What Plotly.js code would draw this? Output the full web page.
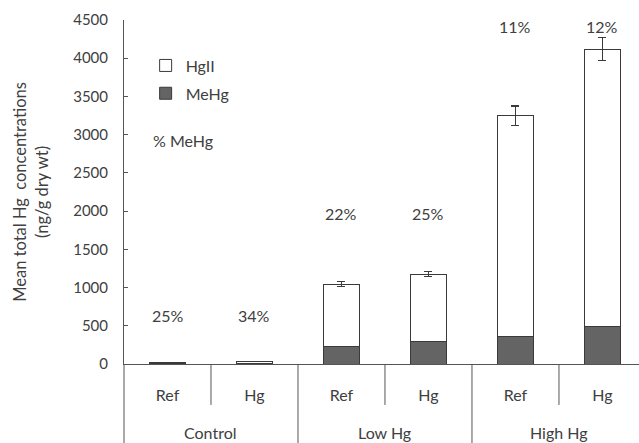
<!DOCTYPE html>
<html>
<head>
<meta charset="utf-8">
<script src="https://cdn.plot.ly/plotly-3.0.1.min.js"></script>
<style>html,body{margin:0;padding:0;overflow:hidden;background:#fff}</style>
</head>
<body>
<div id="chart" style="width:639px;height:443px"></div>
<script>
// ---- data ----
var subLabels = ["Ref", "Hg", "Ref", "Hg", "Ref", "Hg"];
var groupLabels = ["Control", "Low Hg", "High Hg"];
var meHg = [5, 10, 228, 290, 355, 490];
var hgII = [13, 20, 817, 887, 2890, 3630];
var totalErr = [0, 0, 30, 30, 130, 150];
var pctLabels = ["25%", "34%", "22%", "25%", "11%", "12%"];
var pctLabelY = [640, 640, 1975, 1975, 4410, 4410];

var xs = subLabels.map(function (_, i) { return i; });
var txt = '#404040';
var fontFam = 'Lato, "Open Sans", sans-serif';

var traces = [
  {
    type: 'bar', name: 'MeHg', x: xs, y: meHg, width: 0.41, legendgroup: 'b', legendrank: 2,
    marker: {color: '#646464', line: {color: '#3a3a3a', width: 1}}
  },
  {
    type: 'bar', name: 'HgII', x: xs, y: hgII, width: 0.41, legendgroup: 'a', legendrank: 1,
    marker: {color: '#ffffff', line: {color: '#3a3a3a', width: 1}},
    error_y: {type: 'data', array: totalErr, visible: true, color: '#3a3a3a', thickness: 1.2, width: 4}
  }
];

var annotations = [];
pctLabels.forEach(function (t, i) {
  annotations.push({x: xs[i], y: pctLabelY[i], xref: 'x', yref: 'y', text: t, showarrow: false,
    font: {size: 16, color: txt, family: fontFam}});
});
groupLabels.forEach(function (g, j) {
  annotations.push({x: 2 * j + 0.5, y: -0.2, xref: 'x', yref: 'paper', text: g, showarrow: false,
    yanchor: 'middle', font: {size: 16, color: txt, family: fontFam}});
});
annotations.push({x: 0.18, y: 2930, xref: 'x', yref: 'y', text: '% MeHg', showarrow: false,
  font: {size: 16, color: txt, family: fontFam}});

var shapes = [];
// dividers below axis
for (var k = 0; k < xs.length; k++) {
  var isGroup = (k % 2 === 1);
  shapes.push({type: 'line', xref: 'x', yref: 'paper', x0: xs[k] + 0.5, x1: xs[k] + 0.5,
    y0: 0, y1: isGroup ? -0.24 : -0.119, line: {color: '#555', width: 1}});
}
shapes.push({type: 'line', xref: 'paper', yref: 'paper', x0: 0, x1: 0, y0: 0, y1: -0.24,
  line: {color: '#555', width: 1}});

var layout = {
  width: 639, height: 443,
  margin: {l: 124, r: 0, t: 20, b: 79},
  paper_bgcolor: '#fff', plot_bgcolor: '#fff',
  barmode: 'stack',
  font: {family: fontFam, size: 16, color: txt},
  xaxis: {
    range: [-0.5, 5.42], tickvals: xs, ticktext: subLabels,
    showgrid: false, zeroline: false, showline: true, linecolor: '#555', linewidth: 1,
    ticks: '', ticklabelstandoff: 17, tickfont: {size: 16, color: txt}, fixedrange: true
  },
  yaxis: {
    range: [0, 4500], tick0: 0, dtick: 500, showgrid: false, zeroline: false,
    showline: true, linecolor: '#555', linewidth: 1,
    ticks: 'inside', ticklen: 4, tickcolor: '#555', ticklabelstandoff: 12,
    tickfont: {size: 15, color: txt},
    title: {text: 'Mean total Hg  concentrations<br>(ng/g dry wt)', font: {size: 16.5, color: txt}, standoff: 20}
  },
  showlegend: true,
  legend: {x: 0.042, y: 0.917, xanchor: 'left', yanchor: 'top', bgcolor: 'rgba(0,0,0,0)',
    font: {size: 16, color: txt}, itemwidth: 30, traceorder: 'grouped', tracegroupgap: 4},
  annotations: annotations,
  shapes: shapes
};

Plotly.newPlot('chart', traces, layout, {displayModeBar: false, staticPlot: true});
</script>
</body>
</html>
